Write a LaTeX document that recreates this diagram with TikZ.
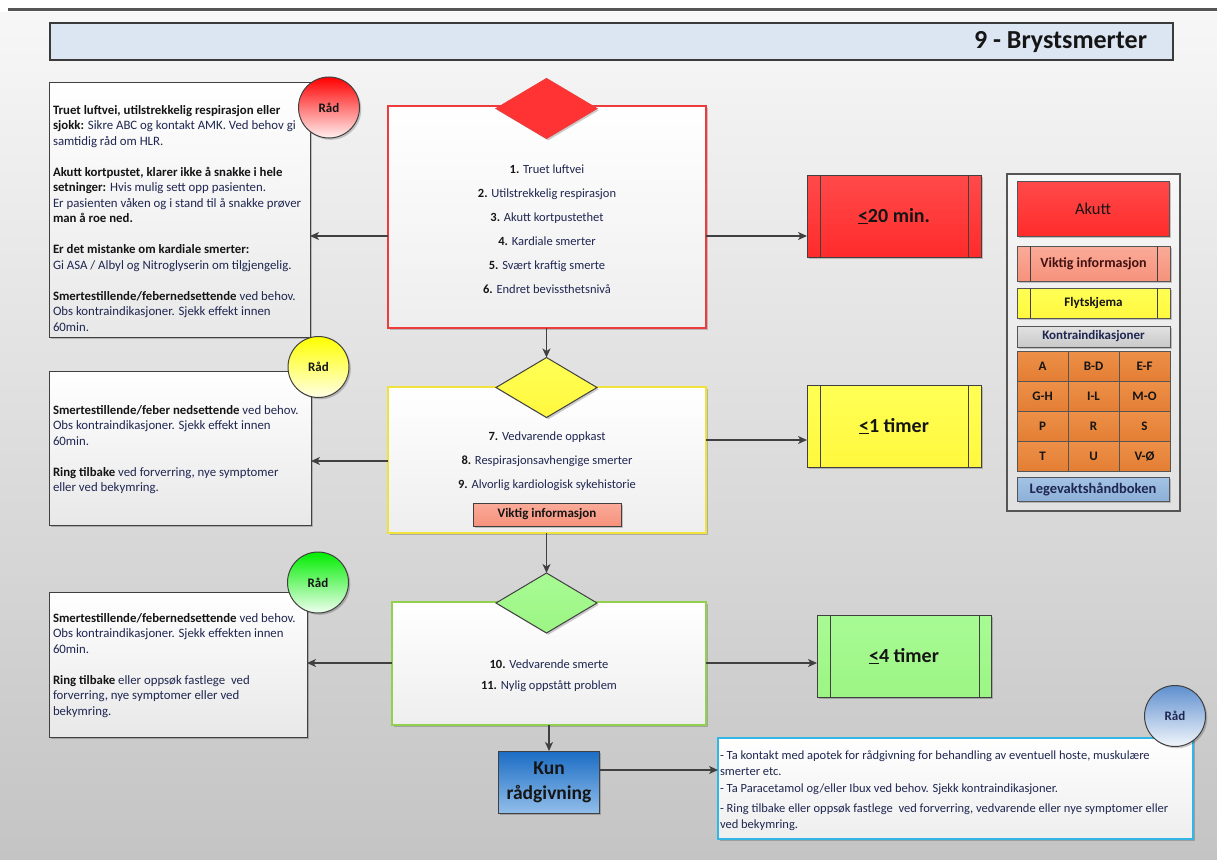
\documentclass[tikz,border=0pt]{standalone}
\usepackage{fontspec}
\setmainfont{Carlito}
\usetikzlibrary{shapes.geometric,arrows.meta,shadows}
\definecolor{arrowc}{HTML}{404040}
\definecolor{navy}{HTML}{1F2650}
\definecolor{ink}{HTML}{151515}
\definecolor{bgtop}{HTML}{F7F7F7}
\definecolor{bgbot}{HTML}{C4C4C4}
\definecolor{topline}{HTML}{555555}
\definecolor{hdrfill}{HTML}{DCE6F2}
\definecolor{hdrline}{HTML}{3A3A3A}
\definecolor{boxline}{HTML}{404040}
\definecolor{legline}{HTML}{555555}
\definecolor{boxbot}{HTML}{E8E8E8}
\definecolor{cbot}{HTML}{EEEEEE}
\definecolor{redb}{HTML}{EE3B3B}
\definecolor{yelb}{HTML}{EFE23A}
\definecolor{grnb}{HTML}{92D050}
\definecolor{redtop}{HTML}{FF4A4A}
\definecolor{redbot}{HTML}{FF2B2B}
\definecolor{reddia}{HTML}{FF3333}
\definecolor{yeltop}{HTML}{FFFF55}
\definecolor{yelbot}{HTML}{FFF83E}
\definecolor{grntop}{HTML}{A8FB94}
\definecolor{grnbot}{HTML}{9CF584}
\definecolor{salmtop}{HTML}{FAAB99}
\definecolor{salmbot}{HTML}{F6927C}
\definecolor{orgtop}{HTML}{EE9048}
\definecolor{orgbot}{HTML}{E37E34}
\definecolor{kgtop}{HTML}{E2E2E2}
\definecolor{kgbot}{HTML}{C9C9C9}
\definecolor{lbtop}{HTML}{A4C3E5}
\definecolor{lbbot}{HTML}{8DB0D8}
\definecolor{cyanb}{HTML}{33B5E5}
\definecolor{kuntop}{HTML}{1A6CC4}
\definecolor{kunbot}{HTML}{92BEEA}
\definecolor{bluetop}{HTML}{5E8FCF}
\definecolor{bluebot}{HTML}{F2F6FB}
\newcommand{\bt}[1]{{\bfseries\color{ink}#1}}
\begin{document}
\begin{tikzpicture}[x=1pt,y=-1pt,
  every node/.style={inner sep=0pt,outer sep=0pt},
  shad/.style={drop shadow={shadow xshift=1.8pt,shadow yshift=-1.8pt,opacity=0.2,fill=black}},
  arr/.style={draw=arrowc,line width=1.3pt,-{Stealth[length=9pt,width=8pt,inset=2.5pt]}},
  nw/.style={anchor=north west},
  leftbox/.style={nw,draw=boxline,line width=1pt,top color=white,bottom color=boxbot,shad},
  lefttext/.style={nw,align=left,text=navy,font=\fontsize{12.8}{15.5}\selectfont},
  cbox/.style={nw,line width=1.3pt,top color=white,bottom color=cbot,shad},
  ctext/.style={anchor=north,align=center,text=navy,font=\fontsize{12.5}{24}\selectfont},
  dia/.style={diamond,minimum width=101pt,minimum height=60pt,line width=1pt,shad},
  circ/.style={circle,minimum size=61pt,draw=boxline,line width=1pt,font=\fontsize{13}{15}\selectfont\bfseries,text=ink,shad},
  tbox/.style={nw,draw=boxline,line width=1pt,minimum width=174pt,minimum height=82pt,font=\fontsize{20}{24}\selectfont\bfseries,text=ink,shad},
  tline/.style={draw=boxline,line width=1pt},
  leg/.style={nw,draw=legline,line width=1pt,minimum width=153pt,shad},
  cell/.style={nw,draw=legline,line width=1pt,minimum width=51pt,minimum height=30pt,top color=orgtop,bottom color=orgbot,font=\fontsize{13}{15}\selectfont\bfseries,text=ink},
]
\useasboundingbox (0,0) rectangle (1217,859);
\fill[top color=bgtop,bottom color=bgbot] (0,12) rectangle (1217,859);
\fill[white] (0,0) rectangle (1217,12);
\coordinate (tl) at (8,10);
\coordinate (tr) at (1217,10);
\draw[line width=3pt,draw=topline] (tl) -- (tr);

% header
\node[nw,draw=hdrline,line width=1.2pt,fill=hdrfill,minimum width=1123pt,minimum height=37pt] (hdr) at (50,23) {};
\node[anchor=east,font=\fontsize{26}{30}\selectfont\bfseries,text=ink] (hdrt) at (1147,42) {9 - Brystsmerter};

% ---------- level 1 (red)
\node[leftbox,minimum width=261pt,minimum height=255pt] (l1) at (49,82) {};
\node[lefttext] (l1t) at (53,105) {\bt{Truet luftvei, utilstrekkelig respirasjon eller}\\
\bt{sjokk:} Sikre ABC og kontakt AMK. Ved behov gi\\
samtidig råd om HLR.\\[15.5pt]
\bt{Akutt kortpustet, klarer ikke å snakke i hele}\\
\bt{setninger:} Hvis mulig sett opp pasienten.\\
Er pasienten våken og i stand til å snakke prøver\\
\bt{man å roe ned.}\\[15.5pt]
\bt{Er det mistanke om kardiale smerter:}\\
Gi ASA / Albyl og Nitroglyserin om tilgjengelig.\\[15.5pt]
\bt{Smertestillende/febernedsettende} ved behov.\\
Obs kontraindikasjoner. Sjekk effekt innen\\
60min.};
\node[circ,top color=red,bottom color=red!6] (r1) at (329,107.5) {Råd};

\node[cbox,draw=redb,minimum width=318pt,minimum height=222pt] (c1) at (388,106) {};
\node[dia,fill=reddia,draw=redb] (d1) at (546.5,108.5) {};
\node[ctext] (c1t) at (547,165) {\bt{1.} Truet luftvei\\ \bt{2.} Utilstrekkelig respirasjon\\ \bt{3.} Akutt kortpustethet\\ \bt{4.} Kardiale smerter\\ \bt{5.} Svært kraftig smerte\\ \bt{6.} Endret bevissthetsnivå};

\node[tbox,top color=redtop,bottom color=redbot] (t1) at (807,175) {\underline{<}20 min.};
\draw[tline] ([xshift=13pt]t1.north west) -- ([xshift=13pt]t1.south west);
\draw[tline] ([xshift=-13pt]t1.north east) -- ([xshift=-13pt]t1.south east);

\coordinate (y1) at (0,236);
\draw[arr] (c1.west |- y1) -- (l1.east |- y1);
\draw[arr] (c1.east |- y1) -- (t1.west |- y1);

% ---------- level 2 (yellow)
\node[leftbox,minimum width=262pt,minimum height=154pt] (l2) at (49,371) {};
\node[lefttext] (l2t) at (53,405) {\bt{Smertestillende/feber nedsettende} ved behov.\\
Obs kontraindikasjoner. Sjekk effekt innen\\
60min.\\[15.5pt]
\bt{Ring tilbake} ved forverring, nye symptomer\\
eller ved bekymring.};
\node[circ,top color=yellow,bottom color=yellow!10] (r2) at (318.5,367) {Råd};

\node[cbox,draw=yelb,minimum width=318pt,minimum height=146pt] (c2) at (388,387) {};
\node[dia,top color=yeltop,bottom color=yelbot,draw=boxline] (d2) at (546.5,387.5) {};
\node[ctext] (c2t) at (547,432) {\bt{7.} Vedvarende oppkast\\ \bt{8.} Respirasjonsavhengige smerter\\ \bt{9.} Alvorlig kardiologisk sykehistorie};
\node[draw=boxline,line width=1pt,top color=salmtop,bottom color=salmbot,minimum width=148pt,minimum height=23pt,font=\fontsize{13}{15}\selectfont\bfseries,text=ink,shad] (vi) at (547,514.5) {Viktig informasjon};

\node[tbox,top color=yeltop,bottom color=yelbot] (t2) at (807,385) {\underline{<}1 timer};
\draw[tline] ([xshift=13pt]t2.north west) -- ([xshift=13pt]t2.south west);
\draw[tline] ([xshift=-13pt]t2.north east) -- ([xshift=-13pt]t2.south east);

\coordinate (y2l) at (0,461);
\coordinate (y2r) at (0,440);
\draw[arr] (c2.west |- y2l) -- (l2.east |- y2l);
\draw[arr] (c2.east |- y2r) -- (t2.west |- y2r);
\draw[arr] (c1.south -| d2.north) -- (d2.north);

% ---------- level 3 (green)
\node[leftbox,minimum width=258pt,minimum height=145pt] (l3) at (49,592) {};
\node[lefttext] (l3t) at (53,613) {\bt{Smertestillende/febernedsettende} ved behov.\\
Obs kontraindikasjoner. Sjekk effekten innen\\
60min.\\[15.5pt]
\bt{Ring tilbake} eller oppsøk fastlege\ \ ved\\
forverring, nye symptomer eller ved\\
bekymring.};
\node[circ,top color=green!93!black,bottom color=green!6] (r3) at (318,582.5) {Råd};

\node[cbox,draw=grnb,minimum width=314pt,minimum height=123pt] (c3) at (392,602) {};
\node[dia,top color=grntop,bottom color=grnbot,draw=boxline] (d3) at (546.5,603) {};
\node[ctext,font=\fontsize{12.5}{21}\selectfont] (c3t) at (549,660) {\bt{10.} Vedvarende smerte\\ \bt{11.} Nylig oppstått problem};

\node[tbox,top color=grntop,bottom color=grnbot] (t3) at (817,615) {\underline{<}4 timer};
\draw[tline] ([xshift=13pt]t3.north west) -- ([xshift=13pt]t3.south west);
\draw[tline] ([xshift=-12pt]t3.north east) -- ([xshift=-12pt]t3.south east);

\coordinate (y3) at (0,663);
\draw[arr] (c3.west |- y3) -- (l3.east |- y3);
\draw[arr] (c3.east |- y3) -- (t3.west |- y3);
\draw[arr] (c2.south -| d3.north) -- (d3.north);

% ---------- advice only
\node[draw=boxline,line width=1pt,top color=kuntop,bottom color=kunbot,minimum width=101pt,minimum height=62pt,align=center,font=\fontsize{19.5}{25}\selectfont\bfseries,text=ink,shad] (kun) at (549,782) {Kun\\rådgivning};
\draw[arr] (c3.south -| kun.north) -- (kun.north);

\node[nw,draw=cyanb,line width=1.2pt,top color=white,bottom color=cbot,minimum width=475pt,minimum height=101pt,shad] (adv) at (718,738) {};
\node[lefttext,font=\fontsize{12.5}{15.5}\selectfont] (advt) at (720,751) {- Ta kontakt med apotek for rådgivning for behandling av eventuell hoste, muskulære\\
smerter etc.\\[2pt]
- Ta Paracetamol og/eller Ibux ved behov. Sjekk kontraindikasjoner.\\[4.5pt]
- Ring tilbake eller oppsøk fastlege\ \ ved forverring, vedvarende eller nye symptomer eller\\
ved bekymring.};
\coordinate (y4) at (0,770);
\draw[arr] (kun.east |- y4) -- (adv.west |- y4);
\node[circ,top color=bluetop,bottom color=bluebot,text=navy] (r4) at (1175,716) {Råd};

% ---------- legend
\node[nw,draw=legline,line width=1.3pt,top color=white!97!black,bottom color=white!88!black,minimum width=173pt,minimum height=337pt] (panel) at (1007,174) {};
\node[leg,top color=redtop,bottom color=redbot,minimum width=152pt,minimum height=55pt,font=\fontsize{16.5}{19}\selectfont,text=ink] (lakutt) at (1017,181) {Akutt};
\node[leg,top color=salmtop,bottom color=salmbot,minimum height=35pt,font=\fontsize{14}{17}\selectfont\bfseries,text=ink!80!red] (lvik) at (1017,246) {Viktig informasjon};
\draw[tline] ([xshift=13pt]lvik.north west) -- ([xshift=13pt]lvik.south west);
\draw[tline] ([xshift=-13pt]lvik.north east) -- ([xshift=-13pt]lvik.south east);
\node[leg,top color=yeltop,bottom color=yelbot,minimum height=30pt,font=\fontsize{13}{15}\selectfont\bfseries,text=ink] (lflyt) at (1017,288) {Flytskjema};
\draw[tline] ([xshift=13pt]lflyt.north west) -- ([xshift=13pt]lflyt.south west);
\draw[tline] ([xshift=-13pt]lflyt.north east) -- ([xshift=-13pt]lflyt.south east);
\node[leg,top color=kgtop,bottom color=kgbot,minimum height=21pt,font=\fontsize{13}{15}\selectfont\bfseries,text=navy] (lkon) at (1017,326) {Kontraindikasjoner};
\foreach \t [count=\k from 0] in {A,B-D,E-F,G-H,I-L,M-O,P,R,S,T,U,V-Ø} {
  \pgfmathtruncatemacro\col{mod(\k,3)}
  \pgfmathtruncatemacro\row{div(\k,3)}
  \node[cell] (g\k) at ({1017+51*\col},{351+30*\row}) {\t};
}
\node[leg,top color=lbtop,bottom color=lbbot,minimum width=152pt,minimum height=24pt,font=\fontsize{14.5}{17}\selectfont\bfseries,text=navy] (lleg) at (1017,477) {Legevaktshåndboken};
\end{tikzpicture}
\end{document}
